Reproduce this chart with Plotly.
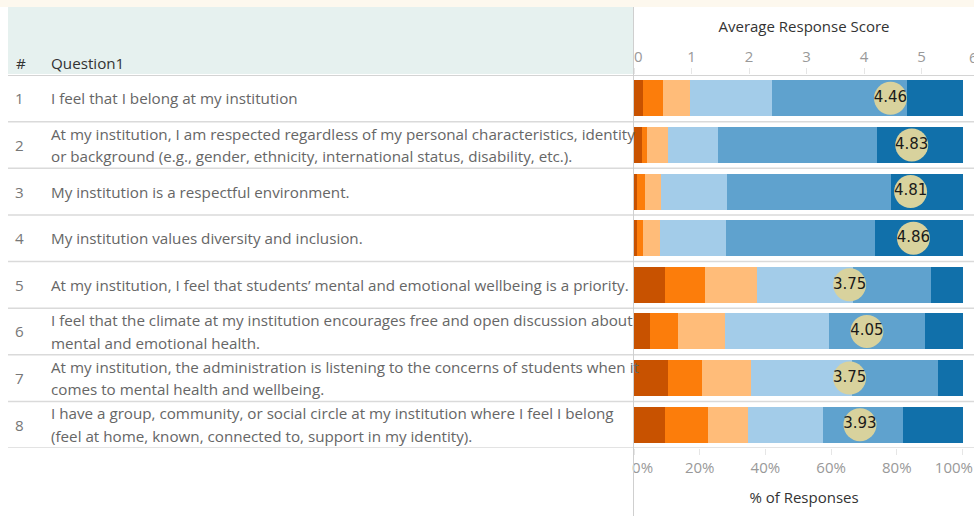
import plotly.graph_objects as go

# ---------------- data ----------------
row_numbers = ["1", "2", "3", "4", "5", "6", "7", "8"]
questions = [
    ["I feel that I belong at my institution"],
    ["At my institution, I am respected regardless of my personal characteristics, identity",
     "or background (e.g., gender, ethnicity, international status, disability, etc.)."],
    ["My institution is a respectful environment."],
    ["My institution values diversity and inclusion."],
    ["At my institution, I feel that students\u2019 mental and emotional wellbeing is a priority."],
    ["I feel that the climate at my institution encourages free and open discussion about",
     "mental and emotional health."],
    ["At my institution, the administration is listening to the concerns of students when it",
     "comes to mental health and wellbeing."],
    ["I have a group, community, or social circle at my institution where I feel I belong",
     "(feel at home, known, connected to, support in my identity)."],
]
# % of responses for response levels 1..6 (strongly disagree -> strongly agree)
level1 = [2.8, 2.3, 1.0, 1.0, 9.3, 4.9, 10.2, 9.4]
level2 = [5.9, 1.8, 2.2, 1.6, 12.2, 8.6, 10.6, 13.1]
level3 = [8.4, 6.1, 4.9, 5.2, 15.8, 14.3, 14.7, 12.2]
level4 = [24.8, 15.5, 20.1, 20.1, 29.4, 31.7, 30.9, 22.8]
level5 = [41.1, 48.4, 49.9, 45.6, 23.6, 29.2, 26.0, 24.4]
level6 = [17.0, 25.9, 21.9, 26.5, 9.7, 11.3, 7.6, 18.1]
avg_scores = [4.46, 4.83, 4.81, 4.86, 3.75, 4.05, 3.75, 3.93]

pct_ticks = [0, 0.2, 0.4, 0.6, 0.8, 1.0]
pct_ticktext = ["\u2007\u20070%", "20%", "40%", "60%", "80%", "100%\u2007\u2007"]
score_ticks = [0, 1, 2, 3, 4, 5]
score_ticktext = ["\u20070", "1", "2", "3", "4", "5"]

level_colors = ["#c85200", "#fc7d0b", "#ffbc79", "#a3cce9", "#5fa2ce", "#1170aa"]

# ---------------- geometry helpers ----------------
W, H = 974, 516
L, R, T, B = 634, 0, 75, 68
PW = W - L - R
PH = H - T - B
def px_x(px):
    return (px - L) / PW
def px_y(py):
    return (H - B - py) / PH

FONT = "Open Sans"
TXT = 15.2
n = len(row_numbers)
ypos = list(range(n))

fig = go.Figure()
levels = [level1, level2, level3, level4, level5, level6]
for k, (vals, col) in enumerate(zip(levels, level_colors)):
    fig.add_trace(go.Bar(
        x=[v / 100 for v in vals], y=ypos, orientation="h",
        marker=dict(color=col, line=dict(width=0)), width=0.77,
        name=f"Level {k+1}", xaxis="x", yaxis="y", hoverinfo="skip",
    ))

fig.add_trace(go.Scatter(
    x=avg_scores, y=ypos, xaxis="x2", yaxis="y", mode="markers+text",
    marker=dict(size=33, color="#d8d29d", line=dict(width=0)),
    text=[f"{s:.2f}" for s in avg_scores], textposition="middle center",
    textfont=dict(family="DejaVu Sans", size=15, color="#1a1a1a"),
    hoverinfo="skip", cliponaxis=False,
))

shapes = []
# cream strip at top
shapes.append(dict(type="rect", xref="paper", yref="paper", x0=px_x(0), x1=px_x(W),
                   y0=px_y(7), y1=px_y(0), fillcolor="#fdf8ee", line=dict(width=0), layer="below"))
# header background
shapes.append(dict(type="rect", xref="paper", yref="paper", x0=px_x(8), x1=px_x(633),
                   y0=px_y(74), y1=px_y(7), fillcolor="#e6f1ef", line=dict(width=0), layer="below"))
# row separators
for i in range(n + 1):
    shapes.append(dict(type="line", xref="paper", yref="y", x0=px_x(8), x1=1,
                       y0=i - 0.5, y1=i - 0.5,
                       line=dict(color="#d4d4d4" if i == 0 else "#dadada", width=2 if i == 0 else 1.5)))
# vertical divider
shapes.append(dict(type="line", xref="paper", yref="paper", x0=px_x(633.5), x1=px_x(633.5),
                   y0=px_y(H), y1=px_y(7), line=dict(color="#cfcfcf", width=1)))

annotations = []
for i in range(n):
    annotations.append(dict(x=px_x(19), y=i, xref="paper", yref="y", text=row_numbers[i],
                            showarrow=False, xanchor="center", yanchor="middle",
                            font=dict(family=FONT, size=TXT, color="#777777")))
    lines = questions[i]
    if len(lines) == 1:
        offs = [0]
    else:
        offs = [-0.245, 0.245]
    for line, o in zip(lines, offs):
        annotations.append(dict(x=px_x(48.5), y=i + o, xref="paper", yref="y", text=line,
                                showarrow=False, xanchor="left", yanchor="middle",
                                font=dict(family=FONT, size=TXT, color="#666666")))
annotations.append(dict(x=px_x(14), y=px_y(63), xref="paper", yref="paper", text="#",
                        showarrow=False, xanchor="left", yanchor="middle",
                        font=dict(family=FONT, size=TXT, color="#333333")))
annotations.append(dict(x=px_x(48.5), y=px_y(63), xref="paper", yref="paper", text="Question1",
                        showarrow=False, xanchor="left", yanchor="middle",
                        font=dict(family=FONT, size=TXT, color="#333333")))
annotations.append(dict(x=px_x(967), y=px_y(57), xref="paper", yref="paper", text="6",
                        showarrow=False, xanchor="left", yanchor="middle",
                        font=dict(family=FONT, size=15, color="#999999")))

fig.update_layout(
    width=W, height=H,
    margin=dict(l=L, r=R, t=T, b=B, pad=0, autoexpand=False),
    paper_bgcolor="white", plot_bgcolor="white",
    barmode="stack", bargap=0, showlegend=False,
    shapes=shapes, annotations=annotations,
    xaxis=dict(range=[0, PW / 328.5], tickvals=pct_ticks, ticktext=pct_ticktext,
               showgrid=False, zeroline=False, showline=False, automargin=False,
               ticks="outside", ticklen=6, tickcolor="#e6e6e6",
               ticklabeloverflow="allow",
               tickfont=dict(family=FONT, size=15, color="#999999"),
               title=dict(text="% of Responses", font=dict(family=FONT, size=15, color="#333333"),
                          standoff=16)),
    xaxis2=dict(range=[0, PW / 57.5], overlaying="x", side="top", tickvals=score_ticks,
                ticktext=score_ticktext, showgrid=False, zeroline=False, showline=False,
                automargin=False,
                ticks="outside", ticklen=6, tickcolor="#e6e6e6",
                ticklabeloverflow="allow",
                tickfont=dict(family=FONT, size=15, color="#999999"),
                title=dict(text="Average Response Score",
                           font=dict(family=FONT, size=15, color="#333333"), standoff=9)),
    yaxis=dict(range=[n - 0.5, -0.5], showticklabels=False, showgrid=False, automargin=False,
               zeroline=False, showline=False, ticks=""),
)

fig.write_html("out.html", config={"displayModeBar": False},
               post_script="document.body.style.margin='0';document.body.style.overflow='hidden';")
